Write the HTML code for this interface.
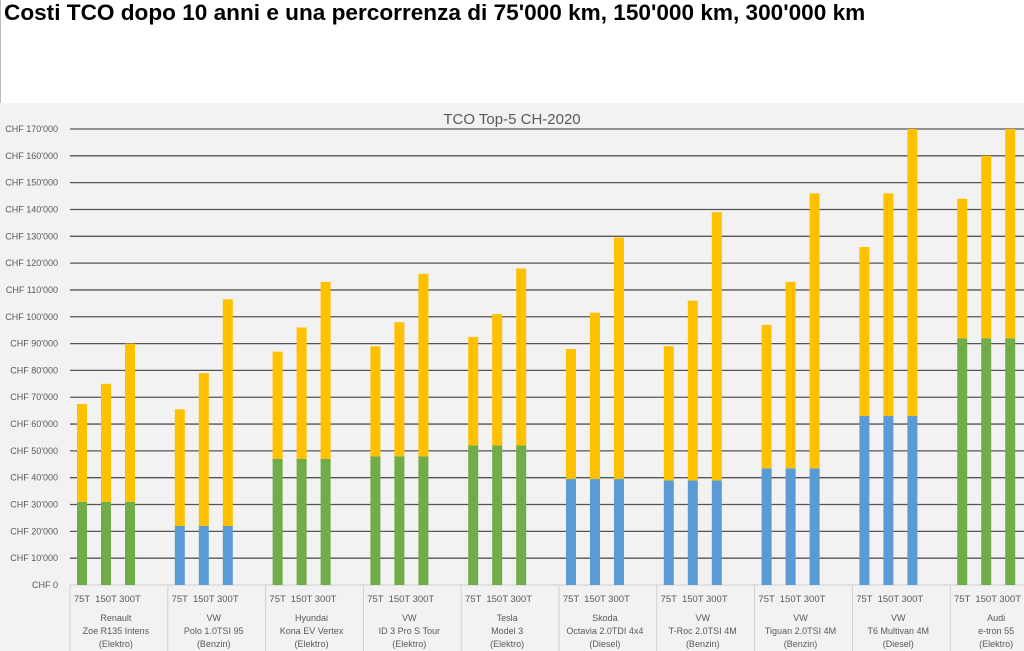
<!DOCTYPE html>
<html><head><meta charset="utf-8"><style>
body{margin:0;width:1024px;height:651px;overflow:hidden;background:#fff;font-family:"Liberation Sans",sans-serif}
#hdr{position:absolute;left:4px;top:0px;font-weight:bold;font-size:22.6px;color:#000;white-space:nowrap}
</style></head><body>
<div id="hdr">Costi TCO dopo 10 anni e una percorrenza di 75'000 km, 150'000 km, 300'000 km</div>
<div style="position:absolute;left:0;top:0;width:1px;height:103px;background:#bbb"></div>
<svg id="chart" width="1024" height="651" style="position:absolute;left:0;top:0"></svg>
<script>
const cars=["Renault|Zoe R135 Intens|(Elektro)","VW|Polo 1.0TSI 95|(Benzin)","Hyundai|Kona EV Vertex|(Elektro)","VW|ID 3 Pro S Tour|(Elektro)","Tesla|Model 3|(Elektro)","Skoda|Octavia 2.0TDI 4x4|(Diesel)","VW|T-Roc 2.0TSI 4M|(Benzin)","VW|Tiguan 2.0TSI 4M|(Benzin)","VW|T6 Multivan 4M|(Diesel)","Audi|e-tron 55|(Elektro)"];
const fuel=["E","B","E","E","E","D","B","B","D","E"];
const baseCost=[31000,22000,47000,48000,52000,39500,39000,43500,63000,92000];
const total75=[67500,65500,87000,89000,92500,88000,89000,97000,126000,144000];
const total150=[75000,79000,96000,98000,101000,101500,106000,113000,146000,160000];
const total300=[90000,106500,113000,116000,118000,129500,139000,146000,170000,170000];
const subLabels=["75T","150T","300T"];
const yTicks=[0,10000,20000,30000,40000,50000,60000,70000,80000,90000,100000,110000,120000,130000,140000,150000,160000,170000];
const NS="http://www.w3.org/2000/svg";
const svg=document.getElementById('chart');
function mk(t,a,p){const e=document.createElementNS(NS,t);for(const k in a)e.setAttribute(k,a[k]);(p||svg).appendChild(e);return e;}
const x0=70,gw=97.8,y0=585,yTop=129,yMax=170000;
const Y=v=>y0-(v/yMax)*(y0-yTop);
const GX=i=>x0+i*gw;
const bg=mk('rect',{x:0,y:103,width:1024,height:548,fill:'#f2f2f2'});


const tt=mk('text',{x:512,y:124,'text-anchor':'middle','font-size':15,fill:'#595959'});tt.textContent="TCO Top-5 CH-2020";


yTicks.forEach(v=>{
 if(v>0){const l=mk('line',{x1:x0,x2:1024,y1:Y(v),y2:Y(v),stroke:'#555','stroke-width':1.3});
 
 }
 const t=mk('text',{x:58,y:Y(v)+3,'text-anchor':'end','font-size':9,fill:'#595959'});
 t.textContent=v===0?"CHF 0":"CHF "+(v/1000)+"'000";
 
 
});
const ax=mk('line',{x1:x0,x2:1024,y1:y0,y2:y0,stroke:'#d0d0d0'});


const totals=[total75,total150,total300];
cars.forEach((c,i)=>{
 const gx=GX(i);
 const sep=mk('line',{x1:gx,x2:gx,y1:y0,y2:651,stroke:'#d0d0d0'});
 
 
 const baseCol=fuel[i]==="E"?'#70ad47':'#5b9bd5';
 [0,1,2].forEach(j=>{
  const cx=gx+12+j*24;
  const r1=mk('rect',{x:cx-5,y:Y(baseCost[i]),width:10,height:Y(0)-Y(baseCost[i]),fill:baseCol});
  
  
  const tv=totals[j][i];
  const r2=mk('rect',{x:cx-5,y:Y(tv),width:10,height:Y(baseCost[i])-Y(tv),fill:'#ffc000'});
  
  
  const tl=mk('text',{x:cx,y:602,'text-anchor':'middle','font-size':9.5,fill:'#595959'});tl.textContent=subLabels[j];
  
  
 });
 c.split('|').forEach((s,k)=>{
  const t=mk('text',{x:gx+gw/2-3,y:621+k*13,'text-anchor':'middle','font-size':9,fill:'#595959'});t.textContent=s;
  
  
 });
});
</script>
</body></html>
